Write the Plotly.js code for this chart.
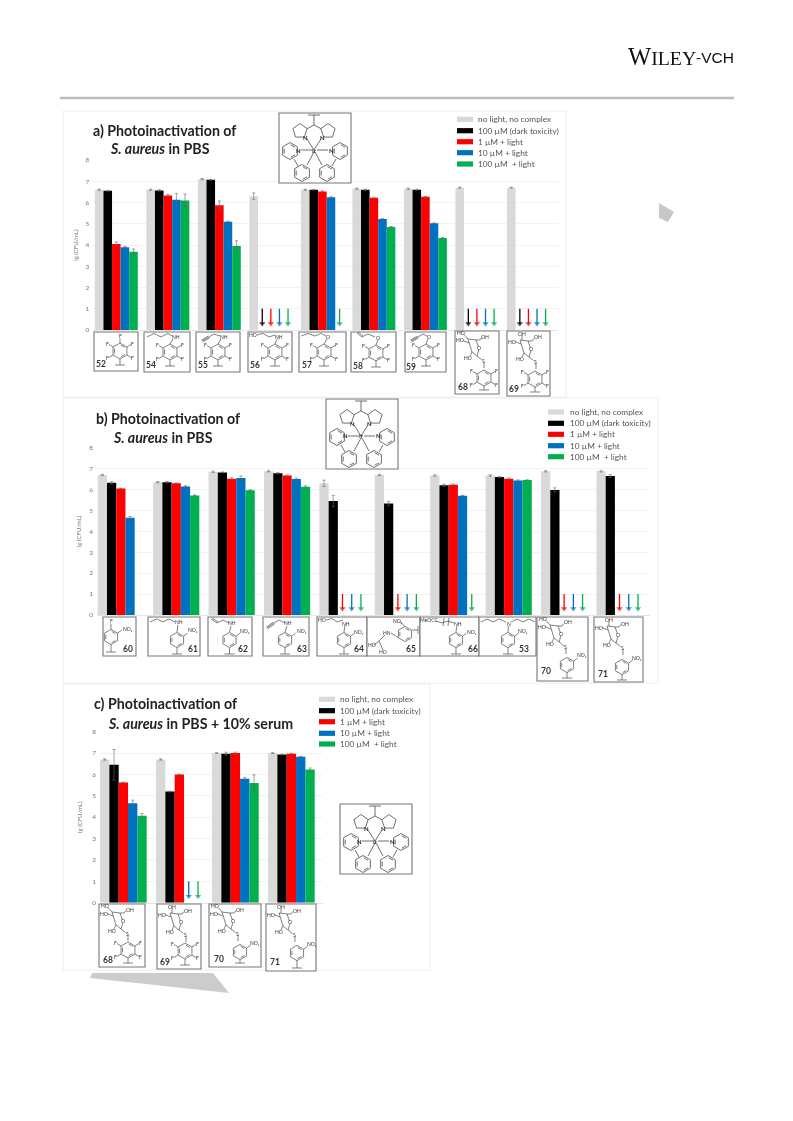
<!DOCTYPE html>
<html><head><meta charset="utf-8">
<script src="https://cdn.plot.ly/plotly-3.0.1.min.js"></script>
<style>html,body{margin:0;padding:0;background:#fff}#g{width:793px;height:1121px;filter:blur(0.45px)}</style>
</head><body><div id="g"></div>
<script>
// ---------- data (0 = below detection limit, drawn as an arrow; null = not measured) ----------
const seriesNames = ['no light, no complex','100 µM (dark toxicity)','1 µM + light','10 µM + light','100 µM  + light'];
const seriesColors = ['#d9d9d9','#000000','#ff0000','#0070c0','#00b050'];

const compoundsA = ['52','54','55','56','57','58','59','68','69'];
const greyA  = [6.60,6.60,7.10,6.30,6.60,6.65,6.65,6.70,6.70];
const blackA = [6.55,6.57,7.07,0,6.60,6.60,6.60,0,0];
const redA   = [4.05,6.33,5.87,0,6.52,6.22,6.27,0,0];
const blueA  = [3.90,6.13,5.10,0,6.25,5.22,5.02,0,0];
const greenA = [3.68,6.10,3.95,0,0,4.85,4.33,0,0];
const errGreyA  = [.03,.03,.03,.15,.03,.03,.03,.02,.02];
const errBlackA = [.02,.03,.02,0,.02,.03,.03,0,0];
const errRedA   = [.10,.05,.20,0,.03,.03,.02,0,0];
const errBlueA  = [.03,.30,.02,0,.02,.03,.02,0,0];
const errGreenA = [.13,.30,.25,0,0,.02,.02,0,0];

const compoundsB = ['60','61','62','63','64','65','66','53','70','71'];
const greyB  = [6.70,6.35,6.85,6.87,6.30,6.70,6.67,6.67,6.87,6.87];
const blackB = [6.32,6.35,6.82,6.78,5.45,5.33,6.20,6.60,5.98,6.65];
const redB   = [6.05,6.30,6.52,6.67,0,0,6.23,6.52,0,0];
const blueB  = [4.65,6.15,6.55,6.50,0,0,5.70,6.43,0,0];
const greenB = [null,5.72,5.97,6.13,0,0,0,6.45,0,0];
const errGreyB  = [.03,.03,.03,.03,.15,.03,.03,.03,.03,.03];
const errBlackB = [.05,.03,.02,.03,.27,.10,.05,.03,.10,.06];
const errRedB   = [.02,.02,.03,.03,0,0,.03,.03,0,0];
const errBlueB  = [.06,.03,.10,.04,0,0,.02,.03,0,0];
const errGreenB = [0,.02,.02,.05,0,0,0,.02,0,0];

const compoundsC = ['68','69','70','71'];
const greyC  = [6.70,6.70,7.00,7.00];
const blackC = [6.45,5.20,6.97,6.93];
const redC   = [5.62,6.00,7.00,6.97];
const blueC  = [4.65,0,5.80,6.83];
const greenC = [4.07,0,5.60,6.23];
const errGreyC  = [.03,.03,.02,.02];
const errBlackC = [.72,.02,.07,.02];
const errRedC   = [.02,.02,.04,.02];
const errBlueC  = [.15,0,.06,.02];
const errGreenC = [.10,0,.38,.07];

const tickValues = [0,1,2,3,4,5,6,7,8];
const yAxisTitle = 'lg (CFU/mL)';
const ARROW_TOP = 1.0, ARROW_TIP = 0.3;

// ---------- page helpers ----------
const W = 793, H = 1121;
const px = x => x / W, py = y => 1 - y / H;
const shapes = [], annotations = [];
const FONT = 'Lato, "Open Sans", sans-serif';
const INK = '#4a4a4a';

function note(x, y, text, size, color, o) {
  annotations.push(Object.assign({xref:'paper', yref:'paper', x:px(x), y:py(y), text, showarrow:false,
    xanchor:'center', yanchor:'middle', borderpad:0, font:{family:FONT, size, color}}, o||{}));
}
function rect(x0,y0,x1,y1,line,w,fill) {
  shapes.push({type:'rect', xref:'paper', yref:'paper', x0:px(x0), x1:px(x1), y0:py(y0), y1:py(y1),
    line:{color:line, width:w}, fillcolor:fill||'rgba(0,0,0,0)', layer:'above'});
}
function poly(points, fill) {
  const d = points.map((p,i)=>(i?'L':'M')+px(p[0]).toFixed(5)+' '+py(p[1]).toFixed(5)).join(' ')+' Z';
  shapes.push({type:'path', xref:'paper', yref:'paper', path:d, fillcolor:fill, line:{width:0}, layer:'below'});
}

// Line-drawing pen for one structure: all strokes go into one path shape
function Pen() { this.d = []; }
Pen.prototype.line = function(pts){ this.d.push(pts.map((p,i)=>(i?'L':'M')+px(p[0]).toFixed(5)+' '+py(p[1]).toFixed(5)).join(' ')); };
Pen.prototype.flush = function(w){
  shapes.push({type:'path', xref:'paper', yref:'paper', path:this.d.join(' '), line:{color:INK, width:w||0.7}, layer:'above'});
};
function hexagon(p, cx, cy, r, pointUp) {
  const pts = [];
  for (let i=0;i<=6;i++){ const a = Math.PI/3*i + (pointUp?Math.PI/2:0); pts.push([cx+r*Math.cos(a), cy-r*Math.sin(a)]); }
  p.line(pts);
  const q = r*0.74;
  [1,3,5].forEach(i=>{
    const a0 = Math.PI/3*i + (pointUp?Math.PI/2:0), a1 = a0+Math.PI/3;
    p.line([[cx+q*Math.cos(a0+.12), cy-q*Math.sin(a0+.12)],[cx+q*Math.cos(a1-.12), cy-q*Math.sin(a1-.12)]]);
  });
}
function pentagon(p, cx, cy, r, rot) {
  const pts = [];
  for (let i=0;i<=5;i++){ const a = 2*Math.PI/5*i + rot; pts.push([cx+r*Math.cos(a), cy-r*Math.sin(a)]); }
  p.line(pts);
}

// Iridium core drawing (72 x 70 box)
function complex(bx, by) {
  rect(bx, by, bx+72, by+70, '#777', 1.1, '#ffffff');
  const p = new Pen(), A=(x,y)=>[bx+x,by+y];
  p.line([A(29,2),A(41,2)]); p.line([A(35,2),A(35,12)]);
  p.line([A(28,15.7),A(35,12),A(42,15.7)]);
  pentagon(p, bx+21, by+18, 7.5, 0.314); pentagon(p, bx+49, by+18, 7.5, 0.314);
  p.line([A(28,26),A(35,37)]); p.line([A(42,26),A(35,37)]);
  p.line([A(22,37),A(33,37)]); p.line([A(38,37),A(49,37)]);
  hexagon(p, bx+11, by+38, 8.5, true); hexagon(p, bx+61, by+38, 8.5, true);
  hexagon(p, bx+23, by+60, 8.5, true); hexagon(p, bx+48, by+60, 8.5, true);
  p.line([A(15,46),A(19,53)]); p.line([A(57,46),A(53,53)]);
  p.line([A(35,39),A(28,52)]); p.line([A(36,39),A(43,52)]);
  p.flush(0.8);
  const bold = {font:{family:FONT,size:6,color:'#222',weight:700}};
  note(bx+26.5,by+24,'N',6,'#222',bold);
  note(bx+43.5,by+24,'N',6,'#222',bold);
  note(bx+19,by+37,'N',6,'#222',bold);
  note(bx+52,by+37,'N',6,'#222',bold);
  note(bx+35,by+37,'Ir',6,'#222',bold);
}

const LBL = 5;
// Aryl ring with stem. kind: 'F4' tetrafluoro, 'NO2' nitro
function aryl(p, bx, by, s) {
  const cx=bx+s.ring[0], cy=by+s.ring[1], r=s.r||7.6;
  hexagon(p, cx, cy, r, true);
  const stem = s.stem || cy+r+7;
  p.line([[cx,cy+r],[cx,stem]]); p.line([[cx-5,stem],[cx+5,stem]]);
  const ux=r*0.866, uy=r*0.5;
  if (s.kind==='F4') {
    [[-1,-1],[1,-1],[-1,1],[1,1]].forEach(d=>{
      p.line([[cx+d[0]*ux,cy+d[1]*uy],[cx+d[0]*(ux+4),cy+d[1]*(uy+2.5)]]);
      note(cx+d[0]*(ux+6), cy+d[1]*(uy+3.4),'F',LBL,'#333');
    });
  } else {
    p.line([[cx+ux,cy-uy],[cx+ux+4,cy-uy-3]]);
    note(s.no2?bx+s.no2[0]:cx+ux+12, s.no2?by+s.no2[1]:cy-uy-5,'NO₂',LBL,'#333');
  }
}
function chain(p, bx, by, pts){ p.line(pts.map(q=>[bx+q[0],by+q[1]])); }
function triple(p, bx, by, a, b){
  const dx=b[0]-a[0], dy=b[1]-a[1], l=Math.hypot(dx,dy), nx=-dy/l*1.1, ny=dx/l*1.1;
  [-1,0,1].forEach(k=>p.line([[bx+a[0]+k*nx,by+a[1]+k*ny],[bx+b[0]+k*nx,by+b[1]+k*ny]]));
}
// Thioglycoside fragment on tall boxes
function sugar(p, bx, by, axial, dy) {
  const d=dy||0, S=(x,y)=>[bx+x,by+y+d];
  p.line([S(13,8),S(17,21),S(22,25),S(24,18.5)]);
  p.line([S(23.5,16),S(21,9),S(13,8)]);
  if (axial) p.line([S(15,8),S(15,3.5)]); else p.line([S(9,3.5),S(13,8)]);
  p.line([S(8,9.5),S(14,12)]);
  p.line([S(21,9),S(25,9),S(27,6.5)]);
  p.line([S(17,21),S(15,25)]);
  p.line([S(22,25),S(26.5,28.5)]);
  p.line([S(29,31),S(29,37)]);
  note(bx+30.5,by+5.5+d,'OH',LBL,'#333');
  note(bx+(axial?15:6),by+(axial?1.5:2.3)+d,axial?'OH':'HO',LBL,'#333');
  note(bx+5,by+9.5+d,'HO',LBL,'#333');
  note(bx+12.5,by+26.5+d,'HO',LBL,'#333');
  note(bx+24,by+17.3+d,'O',LBL,'#333');
  note(bx+28,by+29.7+d,'S',LBL,'#333');
}

function numberLabel(s) {
  note(s.x0+s.num[0], s.y0+s.num[1], s.id, 8.5, '#333', {font:{family:FONT,size:8.5,color:'#333',weight:700}});
}
function structure(s) {
  rect(s.x0, s.y0, s.x1, s.y1, '#777', 1.1, '#ffffff');
  const p = new Pen();
  aryl(p, s.x0, s.y0, s);
  if (s.draw) s.draw(p, s.x0, s.y0);
  p.flush();
  (s.labels||[]).forEach(l=>note(s.x0+l[0], s.y0+l[1], l[2], LBL, '#333'));
  numberLabel(s);
}

// ---------- chart panels ----------
const traces = [];
const BAR = 5, SLOT = (1-1/6)/BAR;
function panel(n, names, vals, errs) {
  const xa = n===1?'x':'x'+n, ya = n===1?'y':'y'+n;
  const pos = names.map((_,i)=>i);
  vals.forEach((v,k)=>{
    traces.push({type:'bar', name:seriesNames[k], x:pos, y:v.map(q=>q===0?null:q), xaxis:xa, yaxis:ya,
      marker:{color:seriesColors[k], line:{width:0}}, showlegend:false, hoverinfo:'skip',
      error_y:{type:'data', array:errs[k].map(q=>q||null), visible:true, color:'#666', thickness:0.6, width:1.6}});
  });
  vals.forEach((v,k)=>{
    const ax=[], ay=[], ms=[];
    v.forEach((q,i)=>{ if (q===0) { const c=i+(k-2)*SLOT; ax.push(c,c,null); ay.push(ARROW_TOP,ARROW_TIP,null); ms.push(0,5.5,0); } });
    if (ax.length) traces.push({type:'scatter', mode:'lines+markers', x:ax, y:ay, xaxis:xa, yaxis:ya, showlegend:false, hoverinfo:'skip',
      connectgaps:false, line:{color:seriesColors[k], width:1.3},
      marker:{symbol:'triangle-down', size:ms, color:seriesColors[k], line:{width:0}}});
  });
}
panel(1, compoundsA, [greyA,blackA,redA,blueA,greenA], [errGreyA,errBlackA,errRedA,errBlueA,errGreenA]);
panel(2, compoundsB, [greyB,blackB,redB,blueB,greenB], [errGreyB,errBlackB,errRedB,errBlueB,errGreenB]);
panel(3, compoundsC, [greyC,blackC,redC,blueC,greenC], [errGreyC,errBlackC,errRedC,errBlueC,errGreenC]);

function xAxis(left,right,range,anchor){
  return {domain:[px(left),px(right)], range, anchor, showticklabels:false, ticks:'', showgrid:false, zeroline:false,
    showline:true, linecolor:'#dcdcdc', linewidth:0.7, fixedrange:true};
}
function yAxis(top,bottom,anchor,standoff){
  return {domain:[py(bottom),py(top)], range:[0,8], anchor, tickvals:tickValues, ticks:'', showline:false, zeroline:false,
    gridcolor:'#ececec', gridwidth:0.7, tickfont:{family:FONT,size:6.5,color:'#777'}, ticklabelstandoff:3,
    title:{text:yAxisTitle, font:{family:FONT,size:6,color:'#777'}, standoff}, fixedrange:true};
}

// ---------- panel frames, header, decoration ----------
[[63,111,566,397],[63,398,658,683],[63,684,430,970]].forEach(f=>
  shapes.push({type:'rect',xref:'paper',yref:'paper',x0:px(f[0]),x1:px(f[2]),y0:py(f[1]),y1:py(f[3]),
    line:{color:'#eeeeee',width:1},layer:'below'}));
shapes.push({type:'line',xref:'paper',yref:'paper',x0:px(60),x1:px(734),y0:py(98),y1:py(98),line:{color:'#bdbdbd',width:2.6},layer:'below'});
poly([[659,203],[674,212],[668,222],[659,218]],'#c8c8c8');
poly([[90,978],[92,973],[213,973],[229,993]],'#cccccc');

// publisher mark: one serif run and one sans run
const SERIF = {family:'Liberation Serif, serif', size:19.8, color:'#111'};
note(627,57,'<span style="font-size:24.5px">W</span>ILEY',19.8,'#111',{xanchor:'left',font:SERIF});
note(695,57.5,'-VCH',15.5,'#111',{xanchor:'left',font:{family:'Liberation Sans, sans-serif',size:15.5,color:'#111'}});

function title(x1,y1,t1,x2,y2,t2,size){
  const f={family:FONT,size,color:'#222',weight:700};
  note(x1,y1,t1,size,'#222',{xanchor:'left',font:f});
  note(x2,y2,t2,size,'#222',{xanchor:'left',font:f});
}
title(92,130,'a) Photoinactivation of',109,149,'<i>S. aureus</i> in PBS',14.2);
title(95,418,'b) Photoinactivation of',112,437.5,'<i>S. aureus</i> in PBS',14.2);
title(93,703,'c) Photoinactivation of',107,723,'<i>S. aureus</i> in PBS + 10% serum',14.2);

function legend(sx,tx,rows){
  seriesNames.forEach((nm,k)=>{
    rect(sx,rows[k]-2.6,sx+16,rows[k]+2.6,seriesColors[k],0,seriesColors[k]);
    note(tx,rows[k],nm,8.3,'#555',{xanchor:'left'});
  });
}
legend(457,477,[119.3,130.7,141.7,152.7,164]);
legend(548,569,[412,423.3,434.3,445.7,456.7]);
legend(319,339,[699.3,710.7,721.7,733.3,744]);

complex(279,113);
complex(326,399);
complex(340,804);

// ---------- compound boxes ----------
const F4='F4', N2='NO2';
[
 {id:'52',x0:94,x1:138,y0:332,y1:371,kind:F4,ring:[26,19],r:8,stem:365,num:[6.5,32],
   draw:(p,x,y)=>{p.line([[x+26,y+11],[x+26,y+6.5]]);},labels:[[26,4,'F']]},
 {id:'54',x0:144,x1:190,y0:332,y1:372,kind:F4,ring:[26,20],r:8,stem:366,num:[7,33],
   draw:(p,x,y)=>{chain(p,x,y,[[3,5],[10,1.5],[17,5],[24,1.5],[28,4]]);p.line([[x+26,y+12],[x+29,y+7]]);},labels:[[32,5,'NH']]},
 {id:'55',x0:196,x1:240,y0:332,y1:372,kind:F4,ring:[22,20],r:8,stem:366,num:[7,33],
   draw:(p,x,y)=>{triple(p,x,y,[6,9],[13,5]);chain(p,x,y,[[13,5],[18,2],[24,4]]);p.line([[x+22,y+12],[x+25,y+7]]);},labels:[[28,5,'NH']]},
 {id:'56',x0:248,x1:292,y0:332,y1:372,kind:F4,ring:[27,20],r:8,stem:366,num:[7,33],
   draw:(p,x,y)=>{chain(p,x,y,[[9,3],[15,1.5],[21,5],[27,3]]);p.line([[x+27,y+12],[x+29,y+7]]);},labels:[[5,3,'HO'],[31,5,'NH']]},
 {id:'57',x0:299,x1:346,y0:332,y1:372,kind:F4,ring:[25,20],r:8,stem:366,num:[8,33],
   draw:(p,x,y)=>{chain(p,x,y,[[2,4],[9,1.5],[16,4],[22,1.5],[27,4]]);p.line([[x+25,y+12],[x+28,y+7]]);},labels:[[29,5,'O']]},
 {id:'58',x0:351,x1:396,y0:332,y1:372,kind:F4,ring:[25,21],r:8,stem:367,num:[7,34],
   draw:(p,x,y)=>{chain(p,x,y,[[6,1],[11,5],[17,2],[24,5]]);chain(p,x,y,[[7,0],[12,4]]);p.line([[x+25,y+13],[x+27,y+8]]);},labels:[[27,6,'O']]},
 {id:'59',x0:405,x1:446,y0:332,y1:372,kind:F4,ring:[21,20],r:8,stem:366,num:[5.5,34.5],
   draw:(p,x,y)=>{triple(p,x,y,[6,9],[13,5]);chain(p,x,y,[[13,5],[18,2],[22,4]]);p.line([[x+21,y+12],[x+23,y+7]]);},labels:[[24,5,'O']]},
 {id:'68',x0:455,x1:499,y0:331,y1:394,kind:F4,ring:[29,47],r:8,stem:390,num:[8,56],draw:(p,x,y)=>sugar(p,x,y,false)},
 {id:'69',x0:507,x1:550,y0:331,y1:396,kind:F4,ring:[28,48],r:8,stem:392,num:[7,58],draw:(p,x,y)=>sugar(p,x,y,true,1)},

 {id:'60',x0:103,x1:136,y0:617,y1:656,kind:N2,ring:[8,20],stem:652,no2:[25,12],num:[25,32],
   draw:(p,x,y)=>{p.line([[x+8,y+12.4],[x+8,y+7]]);},labels:[[8,4,'F']]},
 {id:'61',x0:148,x1:200,y0:617,y1:656,kind:N2,ring:[29,23],stem:654,no2:[45,13],num:[45,32],
   draw:(p,x,y)=>{chain(p,x,y,[[2,5],[9,2],[15,5],[21,2],[27,5]]);p.line([[x+29,y+15],[x+30,y+8]]);},labels:[[31,5,'NH']]},
 {id:'62',x0:208,x1:252,y0:617,y1:656,kind:N2,ring:[21.5,23],stem:654,no2:[37,14],num:[35,32],
   draw:(p,x,y)=>{chain(p,x,y,[[3,2],[9,6],[15,3],[21,6]]);chain(p,x,y,[[4,1],[10,5]]);p.line([[x+21.5,y+15],[x+23,y+9]]);},labels:[[24,6,'NH']]},
 {id:'63',x0:263,x1:309,y0:617,y1:656,kind:N2,ring:[22,23],stem:654,no2:[39,14],num:[39,32],
   draw:(p,x,y)=>{triple(p,x,y,[4,11],[11,6]);chain(p,x,y,[[11,6],[16,3],[22,6]]);p.line([[x+22,y+15],[x+24,y+9]]);},labels:[[25,6,'NH']]},
 {id:'64',x0:317,x1:367,y0:617,y1:656,kind:N2,ring:[27,23],stem:654,no2:[42,15],num:[42,32],
   draw:(p,x,y)=>{chain(p,x,y,[[9,3],[15,1.5],[20,5],[26,3]]);p.line([[x+27,y+15],[x+28,y+9]]);},labels:[[5,3,'HO'],[29,7,'NH']]},
 {id:'65',x0:367,x1:420,y0:617,y1:656,kind:'none',ring:[38,17],stem:0,num:[44,32],
   draw:(p,x,y)=>{chain(p,x,y,[[38-6.6,17+3.8],[24,16]]);chain(p,x,y,[[18,18],[12,24],[7,28]]);chain(p,x,y,[[12,24],[16,33]]);
     chain(p,x,y,[[38,9.4],[33,5]]);chain(p,x,y,[[44.6,13],[51,13]]);chain(p,x,y,[[51,9],[51,17]]);},
   labels:[[31,4,'NO₂'],[20,15.5,'HN'],[4.5,28,'HO'],[15.5,35,'HO']]},
 {id:'66',x0:420,x1:479,y0:617,y1:656,kind:N2,ring:[36,23],stem:654,no2:[52,15],num:[53,32],
   draw:(p,x,y)=>{chain(p,x,y,[[16,4],[22,6],[28,4],[34,6]]);chain(p,x,y,[[24,1],[23,9]]);chain(p,x,y,[[29,1],[28,9]]);p.line([[x+36,y+15],[x+37,y+9]]);},
   labels:[[9,3,'MeOCC'],[38,6.5,'NH']]},
 {id:'53',x0:479,x1:536,y0:617,y1:656,kind:N2,ring:[29,23],stem:654,no2:[44,14],num:[45,32],
   draw:(p,x,y)=>{chain(p,x,y,[[2,5],[8,2],[14,5],[20,2],[27,5]]);chain(p,x,y,[[32,5],[38,2],[44,5],[50,2],[56,5]]);p.line([[x+29,y+15],[x+29.5,y+9]]);},labels:[[29.5,6.7,'N']]},
 {id:'70',x0:537,x1:588,y0:617,y1:681,kind:N2,ring:[30,48],stem:678,no2:[45,38],num:[9,54],draw:(p,x,y)=>sugar(p,x,y,false)},
 {id:'71',x0:594,x1:643,y0:617,y1:682,kind:N2,ring:[28,50],stem:680,no2:[43,41],num:[9,57],draw:(p,x,y)=>sugar(p,x,y,true,1)},

 {id:'68',x0:99,x1:145,y0:904,y1:967,kind:F4,ring:[29,46],r:8,stem:963,num:[8.5,56],draw:(p,x,y)=>sugar(p,x,y,false)},
 {id:'69',x0:157,x1:201,y0:904,y1:969,kind:F4,ring:[28,47],r:8,stem:965,num:[8,58],draw:(p,x,y)=>sugar(p,x,y,true,1)},
 {id:'70',x0:209,x1:261,y0:904,y1:967,kind:N2,ring:[31,48],stem:963,no2:[46,39],num:[10,55],draw:(p,x,y)=>sugar(p,x,y,false)},
 {id:'71',x0:266,x1:316,y0:904,y1:971,kind:N2,ring:[31,49],stem:968,no2:[46,40],num:[9,58],draw:(p,x,y)=>sugar(p,x,y,true,1)}
].forEach(s=>{
  if (s.kind==='none') {
    // compound 65: ring has its stem to the side
    rect(s.x0,s.y0,s.x1,s.y1,'#777',1.1,'#ffffff');
    const p=new Pen(); hexagon(p,s.x0+s.ring[0],s.y0+s.ring[1],7.6,true); s.draw(p,s.x0,s.y0); p.flush();
    s.labels.forEach(l=>note(s.x0+l[0],s.y0+l[1],l[2],LBL,'#333'));
    numberLabel(s);
  } else structure(s);
});

const layout = {
  width:W, height:H, margin:{l:0,r:0,t:0,b:0}, paper_bgcolor:'#fff', plot_bgcolor:'rgba(0,0,0,0)',
  barmode:'group', bargap:1/6, bargroupgap:0, showlegend:false, shapes, annotations,
  font:{family:FONT},
  xaxis: xAxis(93.3,558.3,[-0.447,8.58],'y'),
  yaxis: yAxis(160,330,'x',6),
  xaxis2:xAxis(97,650,[-0.43,9.55],'y2'),
  yaxis2:yAxis(447.7,615,'x2',6.5),
  xaxis3:xAxis(100,323.3,[-0.417,3.57],'y3'),
  yaxis3:yAxis(731.7,902.7,'x3',9)
};
Plotly.newPlot('g', traces, layout, {displayModeBar:false, staticPlot:true});
</script></body></html>
